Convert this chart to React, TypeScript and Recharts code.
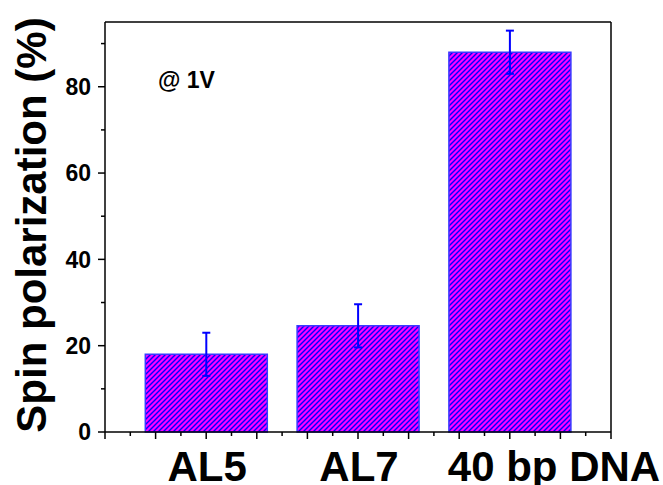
import React from 'react';
import { BarChart, Bar, XAxis, YAxis, ErrorBar, ReferenceLine, Customized } from 'recharts';

const categories = ['AL5', 'AL7', '40 bp DNA'];
const positions = [2, 5, 8];
const polarization = [18, 24.6, 88];
const errors = [5, 5, 5];
const yTicks = [0, 10, 20, 30, 40, 50, 60, 70, 80, 90];
const xTicks = [0, 0.5, 1, 1.5, 2, 2.5, 3, 3.5, 4, 4.5, 5, 5.5, 6, 6.5, 7, 7.5, 8, 8.5, 9, 9.5, 10];

const data = categories.map((c, i) => ({ name: c, x: positions[i], v: polarization[i], err: errors[i] }));

const FONT = '"Liberation Sans", Arial, sans-serif';

const XTick = (props: any) => {
  const { x, y, payload } = props;
  const v = payload.value;
  const major = Number.isInteger(v);
  const idx = positions.indexOf(v);
  return (
    <g>
      <line x1={x} y1={y} x2={x} y2={y + (major ? 7 : 4)} stroke="#000" strokeWidth={1.5} />
      {idx >= 0 && (
        <text
          x={idx === categories.length - 1 ? x - 62 : x + 1}
          y={y + 49}
          textAnchor={idx === categories.length - 1 ? 'start' : 'middle'}
          fontFamily={FONT}
          fontWeight="bold"
          fontSize={42}
          fill="#000"
        >
          {categories[idx]}
        </text>
      )}
    </g>
  );
};

const YTick = (props: any) => {
  const { x, y, payload } = props;
  const v = payload.value;
  const major = v % 20 === 0;
  return (
    <g>
      <line x1={x} y1={y} x2={x - (major ? 7 : 4)} y2={y} stroke="#000" strokeWidth={1.5} />
      {major && (
        <text x={x - 14} y={y} dy="0.36em" textAnchor="end" fontFamily={FONT} fontWeight="bold" fontSize={23} fill="#000">
          {v}
        </text>
      )}
    </g>
  );
};

const Texts = () => (
  <g>
    <text
      transform="translate(46,225) rotate(-90)"
      textAnchor="middle"
      fontFamily={FONT}
      fontWeight="bold"
      fontSize={42}
      fill="#000"
    >
      Spin polarization (%)
    </text>
    <text x={158} y={88} fontFamily={FONT} fontWeight="bold" fontSize={23} fill="#000">
      @ 1V
    </text>
  </g>
);

export default function App() {
  return (
    <div style={{ position: 'absolute', left: 0, top: 0, width: 663, height: 485, background: '#fff' }}>
      <BarChart width={663} height={485} data={data} margin={{ top: 22, right: 52, left: 0, bottom: 0 }}>
        <defs>
          <pattern id="hatch" patternUnits="userSpaceOnUse" width="5" height="5">
            <rect x="0" y="0" width="5" height="5" fill="#ff00ff" />
            <path d="M-1,1 L1,-1 M0,5 L5,0 M4,6 L6,4" stroke="#0000ff" strokeWidth="1.4" />
          </pattern>
        </defs>
        <XAxis
          type="number"
          dataKey="x"
          domain={[0, 10]}
          ticks={xTicks}
          interval={0}
          tickLine={false}
          tickSize={0}
          tickMargin={0}
          tick={<XTick />}
          axisLine={{ stroke: '#000', strokeWidth: 1.5 }}
          height={53}
          allowDecimals
        />
        <YAxis
          type="number"
          domain={[0, 95]}
          ticks={yTicks}
          interval={0}
          tickLine={false}
          tickSize={0}
          tickMargin={0}
          tick={<YTick />}
          axisLine={{ stroke: '#000', strokeWidth: 1.5 }}
          width={105}
        />
        <ReferenceLine y={95} stroke="#000" strokeWidth={1.5} />
        <ReferenceLine x={10} stroke="#000" strokeWidth={1.5} />
        <Bar dataKey="v" barSize={122} fill="url(#hatch)" stroke="#3a3aff" strokeWidth={1.5} isAnimationActive={false}>
          <ErrorBar dataKey="err" width={4} strokeWidth={2} stroke="#0000ff" direction="y" />
        </Bar>
        <Customized component={Texts} />
      </BarChart>
    </div>
  );
}
